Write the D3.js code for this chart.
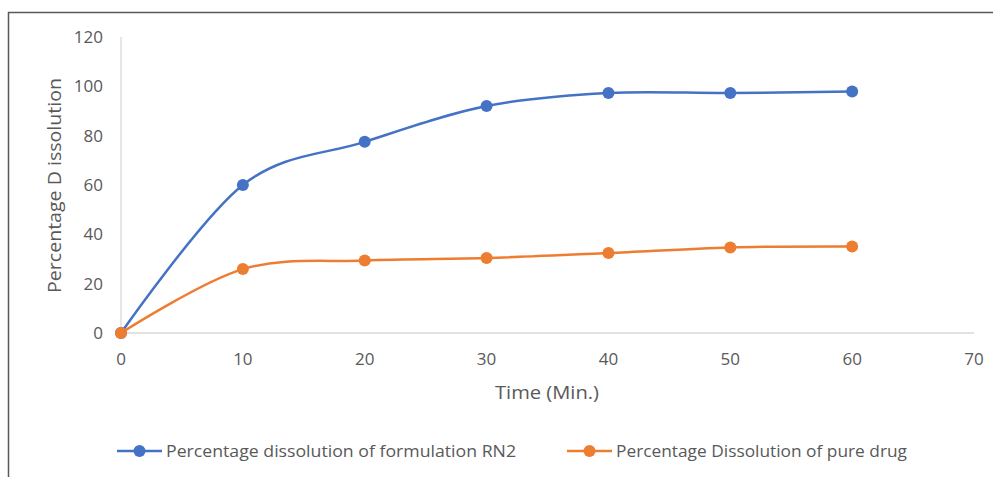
<!DOCTYPE html>
<html>
<head>
<meta charset="utf-8">
<script src="https://cdn.jsdelivr.net/npm/d3@7"></script>
<style>
  body { margin: 0; background: #fff; }
  svg text { font-family: "Open Sans", "Noto Sans", sans-serif; fill: #595959; }
</style>
</head>
<body>
<svg id="chart" width="993" height="477"></svg>
<script>
const times = [0, 10, 20, 30, 40, 50, 60];
const formulationRN2 = [0, 60, 77.5, 92, 97.3, 97.3, 97.9];
const pureDrug = [0, 25.9, 29.4, 30.4, 32.4, 34.7, 35.1];
const xTicks = [0, 10, 20, 30, 40, 50, 60, 70];
const yTicks = [0, 20, 40, 60, 80, 100, 120];
const seriesNames = ["Percentage dissolution of formulation RN2", "Percentage Dissolution of pure drug"];
const seriesColors = ["#4472C4", "#ED7D31"];

const svg = d3.select("#chart");

// frame (only top and left edges visible)
svg.append("path")
  .attr("d", "M8.5,477 L8.5,12.5 L993,12.5")
  .attr("fill", "none")
  .attr("stroke", "#595959")
  .attr("stroke-width", 1.5);

const x = d3.scaleLinear().domain([0, 70]).range([121, 974]);
const y = d3.scaleLinear().domain([0, 120]).range([333, 37]);

// axis lines
svg.append("line")
  .attr("x1", x(0)).attr("x2", x(0))
  .attr("y1", y(120)).attr("y2", y(0))
  .attr("stroke", "#d9d9d9").attr("stroke-width", 1.3);
svg.append("line")
  .attr("x1", x(0)).attr("x2", x(70))
  .attr("y1", y(0)).attr("y2", y(0))
  .attr("stroke", "#d9d9d9").attr("stroke-width", 1.3);

// tick labels
svg.append("g").selectAll("text")
  .data(yTicks).enter().append("text")
  .attr("x", 103)
  .attr("y", d => y(d))
  .attr("dy", "0.35em")
  .attr("text-anchor", "end")
  .attr("font-size", 17)
  .text(d => d);

svg.append("g").selectAll("text")
  .data(xTicks).enter().append("text")
  .attr("x", d => x(d))
  .attr("y", 365)
  .attr("text-anchor", "middle")
  .attr("font-size", 17)
  .text(d => d);

// axis titles
svg.append("text")
  .attr("x", 495)
  .attr("y", 399)
  .attr("font-size", 18)
  .attr("textLength", 104)
  .attr("lengthAdjust", "spacingAndGlyphs")
  .text("Time (Min.)");

svg.append("text")
  .attr("transform", "translate(61,293) rotate(-90)")
  .attr("font-size", 18)
  .attr("textLength", 215)
  .attr("lengthAdjust", "spacingAndGlyphs")
  .text("Percentage D issolution");

// series
const line = d3.line()
  .x(d => x(d[0]))
  .y(d => y(d[1]))
  .curve(d3.curveCatmullRom.alpha(0));

[formulationRN2, pureDrug].forEach((vals, i) => {
  const pts = times.map((t, j) => [t, vals[j]]);
  svg.append("path")
    .datum(pts)
    .attr("d", line)
    .attr("fill", "none")
    .attr("stroke", seriesColors[i])
    .attr("stroke-width", 2.5);
  svg.append("g").selectAll("circle")
    .data(pts).enter().append("circle")
    .attr("cx", d => x(d[0]))
    .attr("cy", d => y(d[1]))
    .attr("r", 6)
    .attr("fill", seriesColors[i]);
});

// legend
const legendY = 451;
const legendItems = [
  { x: 117, textX: 166, width: 350 },
  { x: 567, textX: 616, width: 291 }
];
legendItems.forEach((it, i) => {
  const g = svg.append("g");
  g.append("line")
    .attr("x1", it.x).attr("x2", it.x + 45)
    .attr("y1", legendY).attr("y2", legendY)
    .attr("stroke", seriesColors[i]).attr("stroke-width", 2.5);
  g.append("circle")
    .attr("cx", it.x + 22.5).attr("cy", legendY)
    .attr("r", 6).attr("fill", seriesColors[i]);
  g.append("text")
    .attr("x", it.textX)
    .attr("y", legendY)
    .attr("dy", "0.35em")
    .attr("font-size", 17)
    .attr("textLength", it.width)
    .attr("lengthAdjust", "spacingAndGlyphs")
    .text(seriesNames[i]);
});
</script>
</body>
</html>
